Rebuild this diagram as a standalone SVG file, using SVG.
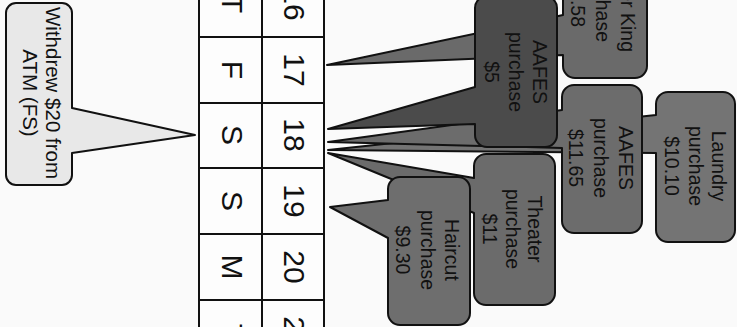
<svg xmlns="http://www.w3.org/2000/svg" width="737" height="327" viewBox="0 0 737 327">
<style>
.bg{fill:#fafafa}
.grid{stroke:#111;stroke-width:2;fill:none}
.cell{font-family:"Liberation Sans",Arial,sans-serif;font-size:30px;fill:#111;text-anchor:middle}
.co{stroke:#111;stroke-width:2;stroke-linejoin:round}
.lbl{font-family:"Liberation Sans",Arial,sans-serif;font-size:19.5px;fill:#111;text-anchor:middle}
.lbl-w{font-size:20.5px}
.lbl-end{text-anchor:end}
</style>
<rect class="bg" x="0" y="0" width="737" height="327"/>

<g id="calendar">
  <rect x="199" y="-10" width="125" height="347" fill="#fdfdfd"/>
  <path class="grid" d="M199,0 V327 M262,0 V327 M324,0 V327 M199,37 H324 M199,103 H324 M199,168 H324 M199,234 H324 M199,300 H324"/>
  <text class="cell" transform="translate(232,4) rotate(90)" y="10.5">T</text>
  <text class="cell" transform="translate(294,4) rotate(90)" y="10.5">16</text>
  <text class="cell" transform="translate(232,70) rotate(90)" y="10.5">F</text>
  <text class="cell" transform="translate(294,70) rotate(90)" y="10.5">17</text>
  <text class="cell" transform="translate(232,135) rotate(90)" y="10.5">S</text>
  <text class="cell" transform="translate(294,135) rotate(90)" y="10.5">18</text>
  <text class="cell" transform="translate(232,201) rotate(90)" y="10.5">S</text>
  <text class="cell" transform="translate(294,201) rotate(90)" y="10.5">19</text>
  <text class="cell" transform="translate(232,267) rotate(90)" y="10.5">M</text>
  <text class="cell" transform="translate(294,267) rotate(90)" y="10.5">20</text>
  <text class="cell" transform="translate(232,333) rotate(90)" y="10.5">T</text>
  <text class="cell" transform="translate(294,333) rotate(90)" y="10.5">21</text>
</g>

<g id="withdrew">
  <path class="co" fill="#e8e8e8" d="M16,3 H62 A10,10 0 0 1 72,13 V108 L195,135 L72,153 V175 A10,10 0 0 1 62,185 H16 A10,10 0 0 1 6,175 V13 A10,10 0 0 1 16,3 Z"/>
  <text class="lbl lbl-w" transform="translate(46,93) rotate(90)"><tspan x="0" y="0">Withdrew $20 from</tspan><tspan x="0" y="23">ATM (FS)</tspan></text>
</g>

<g id="laundry">
  <path class="co" fill="#747474" d="M668,92 H723 A12,12 0 0 1 735,104 V230 A12,12 0 0 1 723,242 H668 A12,12 0 0 1 656,230 V153 L328,150 L656,115 V104 A12,12 0 0 1 668,92 Z"/>
  <text class="lbl" transform="translate(712,166) rotate(90)"><tspan x="0" y="0">Laundry</tspan><tspan x="0" y="23.5">purchase</tspan><tspan x="0" y="47">$10.10</tspan></text>
</g>

<g id="aafes-1165">
  <path class="co" fill="#6c6c6c" d="M574,85 H630 A12,12 0 0 1 642,97 V221 A12,12 0 0 1 630,233 H574 A12,12 0 0 1 562,221 V148 L328,142 L562,110 V97 A12,12 0 0 1 574,85 Z"/>
  <text class="lbl" transform="translate(619,158) rotate(90)"><tspan x="0" y="0">AAFES</tspan><tspan x="0" y="25">purchase</tspan><tspan x="0" y="50">$11.65</tspan></text>
</g>

<g id="burger-king">
  <path class="co" fill="#6a6a6a" d="M575,-80 H635 A12,12 0 0 1 647,-68 V66 A12,12 0 0 1 635,78 H575 A12,12 0 0 1 563,66 V55 L327,65 L563,15 V-68 A12,12 0 0 1 575,-80 Z"/>
  <text class="lbl lbl-end" transform="translate(621,0) rotate(90)"><tspan x="52" y="0">er King</tspan><tspan x="42" y="25">chase</tspan><tspan x="27" y="50">.58</tspan></text>
</g>

<g id="aafes-5">
  <path class="co" fill="#4b4b4b" d="M487,-4 H545 A12,12 0 0 1 557,8 V135 A12,12 0 0 1 545,147 H487 A12,12 0 0 1 475,135 V124 L328,129 L475,87 V8 A12,12 0 0 1 487,-4 Z"/>
  <text class="lbl" transform="translate(533,72) rotate(90)"><tspan x="0" y="0">AAFES</tspan><tspan x="0" y="24">purchase</tspan><tspan x="0" y="48">$5</tspan></text>
</g>

<g id="theater">
  <path class="co" fill="#6b6b6b" d="M486,154 H543 A12,12 0 0 1 555,166 V293 A12,12 0 0 1 543,305 H486 A12,12 0 0 1 474,293 V213 L328,153 L474,178 V166 A12,12 0 0 1 486,154 Z"/>
  <text class="lbl" transform="translate(528,229) rotate(90)"><tspan x="0" y="0">Theater</tspan><tspan x="0" y="22.5">purchase</tspan><tspan x="0" y="45">$11</tspan></text>
</g>

<g id="haircut">
  <path class="co" fill="#6e6e6e" d="M400,177 H458 A12,12 0 0 1 470,189 V313 A12,12 0 0 1 458,325 H400 A12,12 0 0 1 388,313 V238 L330,207 L388,200 V189 A12,12 0 0 1 400,177 Z"/>
  <text class="lbl" transform="translate(445,250) rotate(90)"><tspan x="0" y="0">Haircut</tspan><tspan x="0" y="24.5">purchase</tspan><tspan x="0" y="49">$9.30</tspan></text>
</g>

<g id="connectors"></g>
</svg>
